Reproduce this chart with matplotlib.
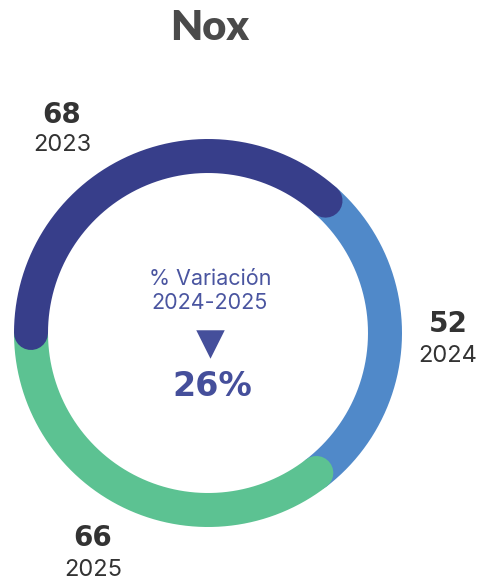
import matplotlib.pyplot as plt
import numpy as np

# Nox emissions by year
years = ['2023', '2024', '2025']
values = [68, 52, 66]
colors = ['#373e8a', '#5089c9', '#5cc292']
variation_label = '% Variación\n2024-2025'
variation_pct = 26

fig = plt.figure(figsize=(4.83, 5.87), dpi=100)
ax = fig.add_axes([0, 0, 1, 1])
ax.set_xlim(0, 483)
ax.set_ylim(587, 0)
ax.set_aspect('equal')
ax.axis('off')

cx, cy = 208, 333
r = 177
width_px = 34
lw = width_px * 72 / 100

total = sum(values)
start = 180.0
arcs = []
for v, c in zip(values, colors):
    span = v / total * 360
    arcs.append((start, start - span, c))
    start -= span

# blue first, then green, navy on top
for i in [1, 2, 0]:
    a0, a1, c = arcs[i]
    t = np.radians(np.linspace(a0, a1, 200))
    ax.plot(cx + r * np.cos(t), cy - r * np.sin(t), color=c, lw=lw,
            solid_capstyle='round')

ax.text(210, 28, 'Nox', ha='center', va='center', fontsize=30,
        fontweight='heavy', color='#4a4a4a', family='Lato')

label_pos = [(62, 115, 145), (448, 324, 356), (93, 538, 570)]
for (x, yv, yy), v, yr in zip(label_pos, values, years):
    ax.text(x, yv, str(v), ha='center', va='center', fontsize=20,
            fontweight='bold', color='#333333', family='DejaVu Sans')
    ax.text(x, yy, yr, ha='center', va='center', fontsize=17,
            color='#333333', family='Inter')

ax.text(210, 291, variation_label, ha='center', va='center', fontsize=15.5,
        color='#4a55a0', family='Inter', linespacing=1.2)
ax.scatter([210], [344], marker='v', s=420, color='#454f9b', linewidths=0)
ax.text(212, 386, f'{variation_pct}%', ha='center', va='center', fontsize=24,
        fontweight='bold', color='#454f9b', family='DejaVu Sans')

fig.savefig('out.png', dpi=100)
